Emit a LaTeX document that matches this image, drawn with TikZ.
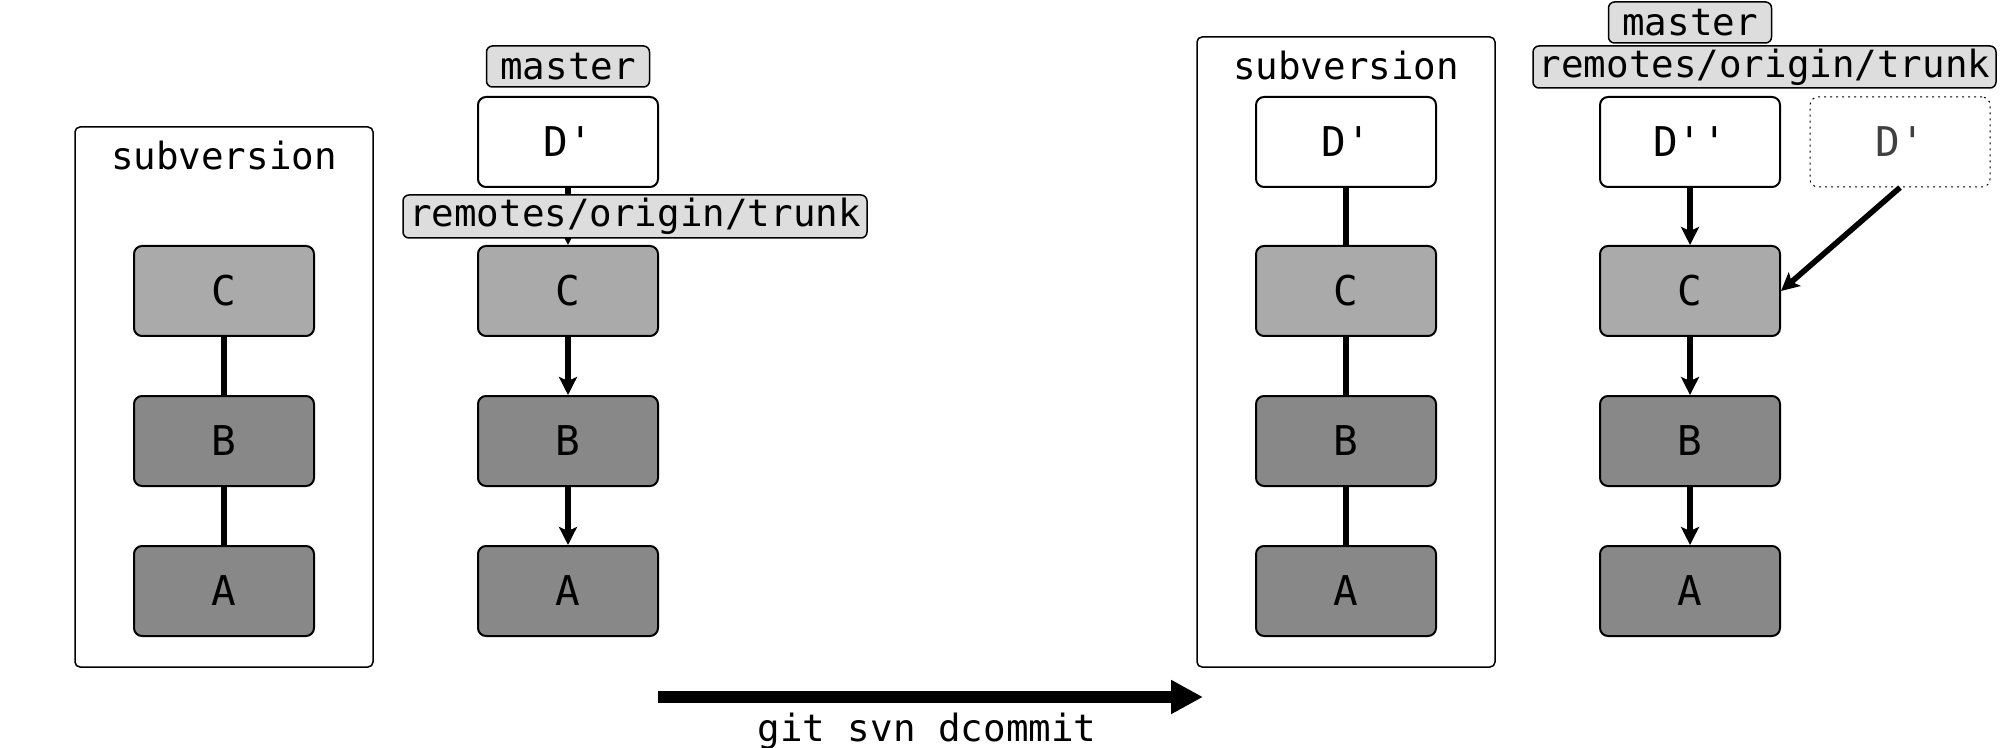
\documentclass[tikz,border=0pt]{standalone}
\usepackage{fontspec}
\newfontfamily\monofnt{DejaVu Sans Mono}
\usetikzlibrary{arrows.meta}
\definecolor{cfill}{HTML}{AAAAAA}
\definecolor{abfill}{HTML}{888888}
\definecolor{lblfill}{HTML}{DDDDDD}
\begin{document}
\begin{tikzpicture}[x=0.5pt,y=-0.5pt,
  commit/.style={draw, line width=1pt, rounded corners=4pt, minimum width=90pt, minimum height=45pt, inner sep=0pt, font=\monofnt\fontsize{20.5}{24}\selectfont},
  newc/.style={commit, fill=white},
  cc/.style={commit, fill=cfill},
  oldc/.style={commit, fill=abfill},
  ghost/.style={commit, draw=black, dotted, line width=0.5pt, text=black!75},
  repo/.style={draw, line width=0.75pt, rounded corners=2.5pt, inner sep=0pt, minimum width=149pt},
  reflbl/.style={draw, fill=lblfill, line width=0.75pt, rounded corners=3pt, inner sep=0pt, font=\monofnt\fontsize{18.75}{22}\selectfont},
  link/.style={line width=2.8pt},
  parent/.style={link, -{Stealth[length=9pt,width=9pt,inset=2pt]}},
  lbl/.style={font=\monofnt\fontsize{18.75}{22}\selectfont, inner sep=0pt}
]
\useasboundingbox (0,0) rectangle (2000,748);

% repositories
\node[repo, minimum height=270pt] (svnL) at (224,397) {};
\node[repo, minimum height=315pt] (svnR) at (1346,352) {};
\node[lbl, anchor=base] (svnLt) at (224,170) {subversion};
\node[lbl, anchor=base] (svnRt) at (1346,80) {subversion};

% column 1
\node[cc]   (c1) at (224,291) {C};
\node[oldc] (b1) at (224,441) {B};
\node[oldc] (a1) at (224,591) {A};
% column 2
\node[newc] (d2) at (568,142) {D'};
\node[cc]   (c2) at (568,291) {C};
\node[oldc] (b2) at (568,441) {B};
\node[oldc] (a2) at (568,591) {A};
% column 3
\node[newc] (d3) at (1346,142) {D'};
\node[cc]   (c3) at (1346,291) {C};
\node[oldc] (b3) at (1346,441) {B};
\node[oldc] (a3) at (1346,591) {A};
% column 4
\node[newc] (d4) at (1690,142) {D''};
\node[ghost] (g4) at (1900,142) {D'};
\node[cc]   (c4) at (1690,291) {C};
\node[oldc] (b4) at (1690,441) {B};
\node[oldc] (a4) at (1690,591) {A};

% connectors
\draw[link] (c1) -- (b1);
\draw[link] (b1) -- (a1);
\draw[parent] (d2) -- (c2);
\draw[parent] (c2) -- (b2);
\draw[parent] (b2) -- (a2);
\draw[link] (d3) -- (c3);
\draw[link] (c3) -- (b3);
\draw[link] (b3) -- (a3);
\draw[parent] (d4) -- (c4);
\draw[parent] (c4) -- (b4);
\draw[parent] (b4) -- (a4);
\draw[parent] (g4.south) -- (c4.east);

% refs
\node[reflbl, minimum width=81.5pt, minimum height=20.5pt] (m2) at (568,66.5) {master};
\node[reflbl, minimum width=232pt, minimum height=21.5pt] (r2) at (635,216.5) {remotes/origin/trunk};
\node[reflbl, minimum width=81.5pt, minimum height=20.5pt] (m4) at (1690,22.5) {master};
\node[reflbl, minimum width=231.5pt, minimum height=21pt] (r4) at (1764.5,67) {remotes/origin/trunk};

% dcommit arrow
\coordinate (as) at (658,697);
\coordinate (ae) at (1203,697);
\draw[line width=6.35pt, -{Triangle[length=16pt,width=16pt]}] (as) -- (ae);
\node[lbl, anchor=base] (cmd) at (927,741) {git svn dcommit};
\end{tikzpicture}
\end{document}
